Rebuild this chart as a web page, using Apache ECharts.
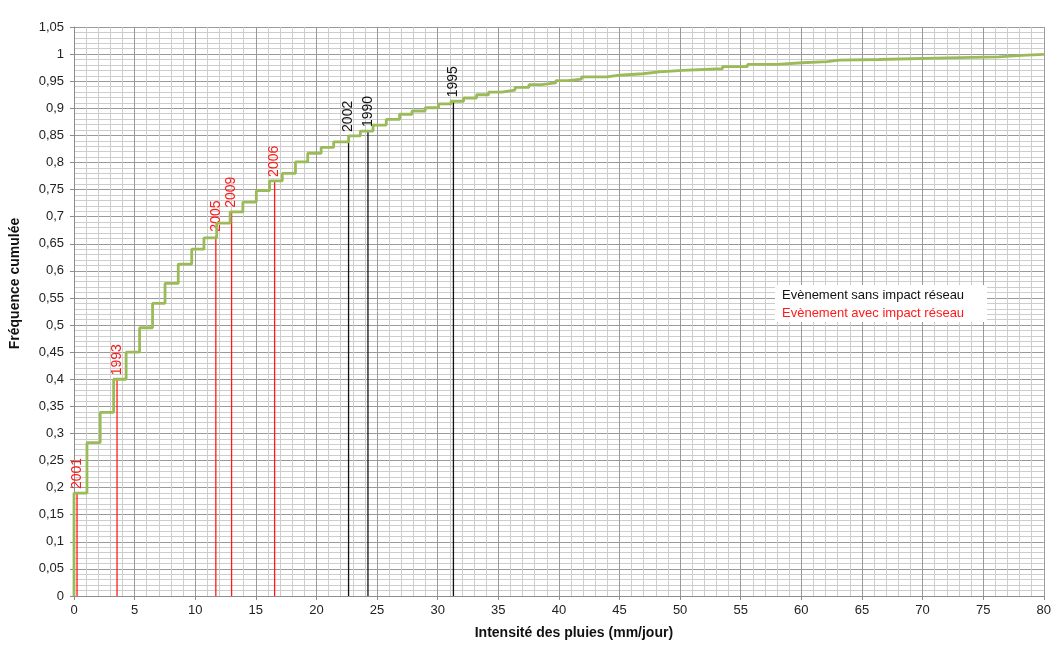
<!DOCTYPE html>
<html>
<head>
<meta charset="utf-8">
<script src="https://cdn.jsdelivr.net/npm/echarts@6/dist/echarts.min.js"></script>
<style>
html,body{margin:0;padding:0;background:#fff;}
#chart{width:1054px;height:647px;}
</style>
</head>
<body>
<div id="chart"></div>
<script>
// Step curve: x position where the cumulative frequency rises, and the new level
const stepX = [0, 0, 1.07, 2.16, 3.27, 4.30, 5.41, 6.48, 7.51, 8.60, 9.71,
  10.72, 11.77, 12.88, 13.93, 15.04, 16.13, 17.18, 18.27, 19.28, 20.39,
  21.42, 22.66, 23.62, 24.67, 25.76, 26.86, 27.88, 28.97, 30.07, 31.11,
  32.14, 33.21, 34.20, 35.28, 36.38, 37.53, 38.58, 39.75, 40.74, 41.87,
  43.95, 45.02, 46.91, 48.30, 50.20, 53.50, 55.56, 58.02, 60.08, 62.14,
  63.13, 66.42, 72.00, 76.30, 78.20, 80];
const stepY = [0, 0.190, 0.283, 0.339, 0.400, 0.450, 0.495, 0.540, 0.577, 0.6125, 0.640,
  0.661, 0.688, 0.709, 0.727, 0.748, 0.766, 0.780, 0.801, 0.817, 0.828,
  0.838, 0.849, 0.858, 0.869, 0.8795, 0.889, 0.895, 0.901, 0.908, 0.913,
  0.919, 0.925, 0.930, 0.9336, 0.9385, 0.9435, 0.947, 0.951, 0.954, 0.958,
  0.961, 0.9637, 0.967, 0.970, 0.973, 0.977, 0.981, 0.984, 0.986, 0.989,
  0.990, 0.993, 0.995, 0.9975, 0.9994, 1.0];

// Events
const eventYears  = ['2001', '1993', '2005', '2009', '2006', '2002', '1990', '1995'];
const eventX      = [0.25, 3.55, 11.70, 13.00, 16.55, 22.65, 24.25, 31.30];
const eventTop    = [0.190, 0.400, 0.665, 0.709, 0.766, 0.849, 0.858, 0.913];
const eventImpact = [true, true, true, true, true, false, false, false];

// Axes
const xTicks = [0, 5, 10, 15, 20, 25, 30, 35, 40, 45, 50, 55, 60, 65, 70, 75, 80];
const yTicks = [0, 0.05, 0.1, 0.15, 0.2, 0.25, 0.3, 0.35, 0.4, 0.45, 0.5, 0.55, 0.6, 0.65, 0.7, 0.75, 0.8, 0.85, 0.9, 0.95, 1, 1.05];

const legendLabels = ['Evènement sans impact réseau', 'Evènement avec impact réseau'];
const xTitle = 'Intensité des pluies (mm/jour)';
const yTitle = 'Fréquence cumulée';

const FONT = '"Liberation Sans", Arial, sans-serif';
const RED = '#ff1a1a';
const BLACK = '#111111';

const curve = stepX.map((x, i) => [x, stepY[i]]);
const events = eventX.map((x, i) => [x, eventTop[i], i]);

const chart = echarts.init(document.getElementById('chart'), null, {renderer: 'canvas'});

const fmt = v => (+(+v).toFixed(2)).toString().replace('.', ',');

chart.setOption({
  animation: false,
  backgroundColor: '#ffffff',
  grid: {left: 73, right: 9, top: 27, bottom: 51, containLabel: false},
  xAxis: {
    type: 'value',
    min: xTicks[0], max: xTicks[xTicks.length - 1], interval: xTicks[1] - xTicks[0],
    name: xTitle, nameLocation: 'middle', nameGap: 30,
    nameTextStyle: {fontFamily: FONT, fontSize: 14, fontWeight: 'bold', color: '#111', padding: [0, 0, 0, 30]},
    axisLine: {show: true, onZero: false, lineStyle: {color: '#8c8c8c', width: 1}},
    axisTick: {show: true, length: 4, lineStyle: {color: '#8c8c8c'}},
    minorTick: {show: false, splitNumber: 5},
    axisLabel: {fontFamily: FONT, fontSize: 13, color: '#222', margin: 8,
      formatter: v => fmt(v)},
    splitLine: {show: true, lineStyle: {color: '#9a9a9a', width: 1}},
    minorSplitLine: {show: true, lineStyle: {color: '#cdcdcd', width: 1}}
  },
  yAxis: {
    type: 'value',
    min: yTicks[0], max: yTicks[yTicks.length - 1], interval: 0.05,
    name: yTitle, nameLocation: 'middle', nameGap: 52,
    nameTextStyle: {fontFamily: FONT, fontSize: 14, fontWeight: 'bold', color: '#111', padding: [0, 0, 0, 56]},
    axisLine: {show: true, lineStyle: {color: '#8c8c8c', width: 1}},
    axisTick: {show: true, length: 4, lineStyle: {color: '#8c8c8c'}},
    minorTick: {show: false, splitNumber: 5},
    axisLabel: {fontFamily: FONT, fontSize: 13, color: '#222', margin: 10,
      formatter: v => fmt(v)},
    splitLine: {show: true, lineStyle: {color: '#9a9a9a', width: 1}},
    minorSplitLine: {show: true, lineStyle: {color: '#cdcdcd', width: 1}}
  },
  series: [
    {
      type: 'custom',
      z: 3,
      data: events,
      clip: false,
      renderItem: function (params, api) {
        const x = api.value(0), top = api.value(1), idx = api.value(2);
        const p0 = api.coord([x, 0]);
        const p1 = api.coord([x, top]);
        const col = eventImpact[idx] ? RED : BLACK;
        return {
          type: 'group',
          children: [
            {type: 'line', shape: {x1: p0[0], y1: p0[1], x2: p1[0], y2: p1[1]},
              style: {stroke: col, lineWidth: 1.3, fill: null}},
            {type: 'text', x: p1[0], y: p1[1] - 4, rotation: Math.PI / 2,
              style: {text: eventYears[idx], fill: col, font: '14px ' + FONT, align: 'left', verticalAlign: 'middle'}}
          ]
        };
      }
    },
    {
      type: 'line',
      z: 4,
      step: 'end',
      symbol: 'none',
      data: curve,
      lineStyle: {color: '#9bbb59', width: 2.8},
      itemStyle: {color: '#9bbb59'}
    }
  ],
  graphic: [
    {
      type: 'group', left: 775, top: 285, z: 100,
      children: [
        {type: 'rect', z: 100, shape: {x: 0, y: 0, width: 212, height: 37}, style: {fill: '#ffffff', stroke: null}},
        {type: 'text', z: 101, x: 7, y: 10, style: {text: legendLabels[0], fill: BLACK, font: '13px ' + FONT, verticalAlign: 'middle'}},
        {type: 'text', z: 101, x: 7, y: 28, style: {text: legendLabels[1], fill: RED, font: '13px ' + FONT, verticalAlign: 'middle'}}
      ]
    }
  ]
});
</script>
</body>
</html>
